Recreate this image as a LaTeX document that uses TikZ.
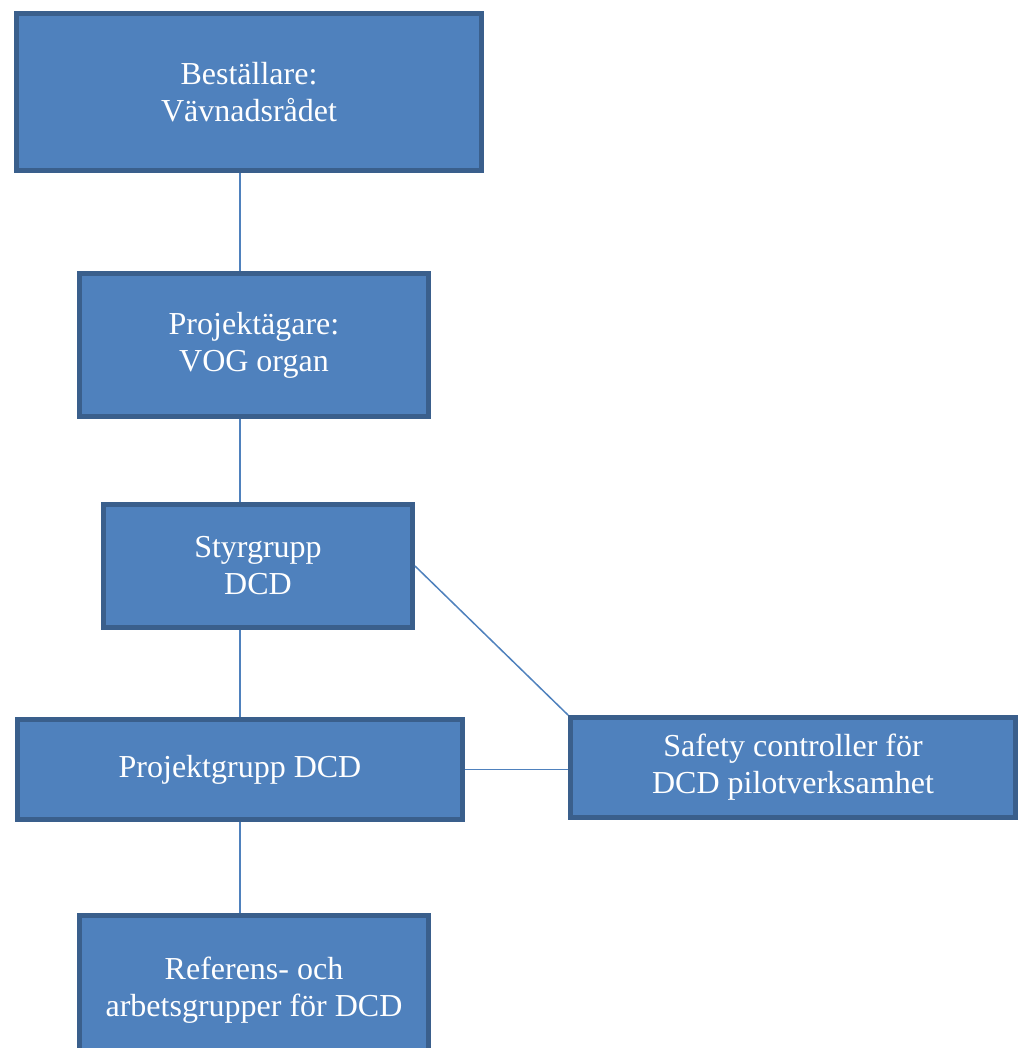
\documentclass[tikz,border=0pt]{standalone}
\usepackage{fontspec}
\setmainfont{Liberation Serif}
\usepackage{xcolor}
\usetikzlibrary{positioning}
\definecolor{boxfill}{HTML}{4F81BD}
\definecolor{boxline}{HTML}{3A5F8C}
\tikzset{
    box/.style={draw=boxline, fill=boxfill, line width=5pt, text=white, align=center, font=\fontsize{32}{37}\selectfont, inner sep=0pt}, % the blue boxes
    link/.style={draw=boxfill, line width=1.5pt}, % thin connectors
}

\begin{document}
\begin{tikzpicture}[x=1pt, y=-1pt]
    \clip (0,0) rectangle (1024,1048);
    \useasboundingbox (0,0) rectangle (1024,1048);

    \node[box, minimum width=465pt, minimum height=157pt] (best) at (249,92) {Beställare:\\Vävnadsrådet};
    \node[box, minimum width=349pt, minimum height=143pt] (agare) at (254,345) {Projektägare:\\VOG organ};
    \node[box, minimum width=309pt, minimum height=123pt] (styr) at (258,566) {Styrgrupp\\DCD};
    \node[box, minimum width=445pt, minimum height=100pt] (projgr) at (240,769.5) {Projektgrupp DCD};
    \node[box, minimum width=349pt, minimum height=150pt] (ref) at (254,990.5) {Referens- och\\arbetsgrupper för DCD};
    \node[box, minimum width=445pt, minimum height=100pt] (safety) at (793,767.5) {Safety controller för\\DCD pilotverksamhet};

    \coordinate (spine) at (240,0);

    \path[link]
        (best.south -| spine) edge (agare.north -| spine)
        (agare.south -| spine) edge (styr.north -| spine)
        (styr.south -| spine) edge (projgr.north -| spine)
        (projgr.south -| spine) edge (ref.north -| spine)
        (styr.east) edge (safety.north west)
        (projgr.east) edge (projgr.east -| safety.west);
\end{tikzpicture}
\end{document}
